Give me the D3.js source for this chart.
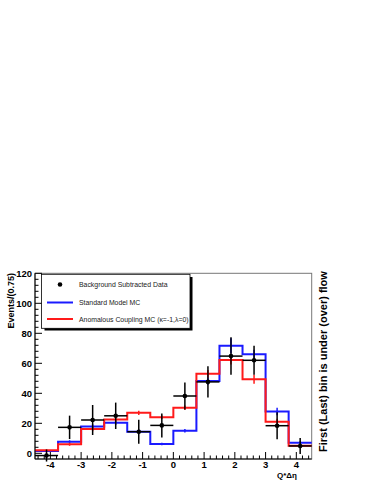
<!DOCTYPE html>
<html>
<head>
<meta charset="utf-8">
<script src="https://cdn.jsdelivr.net/npm/d3@7"></script>
<style>
  body { margin: 0; background: #fff; }
  svg { display: block; font-family: "Liberation Sans", Arial, sans-serif; }
</style>
</head>
<body>
<div id="chart"></div>
<script>
// bin edges of Q*deta, width 0.75
const binEdges = [-4.5, -3.75, -3, -2.25, -1.5, -0.75, 0, 0.75, 1.5, 2.25, 3, 3.75, 4.5];
const dataValues = [-1.5, 17.3, 22.2, 25, 14.4, 18.6, 38.2, 47.6, 64.8, 62, 18.4, 4.9];
const dataErrors = [4, 7.8, 10, 8.8, 8, 8, 9, 10.4, 12.5, 9.7, 9, 5.3];
const smValues = [1.5, 7.7, 17.8, 20.4, 14.4, 6.2, 15, 48.2, 71.7, 66, 27.8, 7];
const smErrors = [0.6, 1, 1.5, 1.5, 1.4, 0.8, 1.2, 2.5, 5, 3, 2.5, 1];
const acValues = [2, 6, 16.2, 22.6, 27, 24, 30.4, 53, 62.2, 49.3, 21.1, 5];
const acErrors = [0.6, 1, 1.5, 1.5, 1.4, 1.2, 1.5, 2.5, 3, 3, 2, 1];
const yTicks = [0, 20, 40, 60, 80, 100, 120];
const xTicks = [-4, -3, -2, -1, 0, 1, 2, 3, 4];

const width = 374, height = 484;
const svg = d3.select("#chart").append("svg")
    .attr("width", width).attr("height", height);

const x = d3.scaleLinear().domain([-4.5, 4.5]).range([35, 311.7]);
const y = d3.scaleLinear().domain([-3.8, 120]).range([459, 273.3]);

// frame
svg.append("rect")
    .attr("x", x(-4.5)).attr("y", y(120))
    .attr("width", x(4.5) - x(-4.5)).attr("height", y(-3.8) - y(120))
    .attr("fill", "none").attr("stroke", "#777").attr("stroke-width", 1);

// step histogram path
function stepPath(vals) {
    let pts = [];
    vals.forEach((v, i) => {
        pts.push([x(binEdges[i]), y(v)]);
        pts.push([x(binEdges[i + 1]), y(v)]);
    });
    return d3.line()(pts);
}

function drawHist(vals, errs, color) {
    const g = svg.append("g");
    g.append("path")
        .attr("d", stepPath(vals))
        .attr("fill", "none")
        .attr("stroke", color)
        .attr("stroke-width", 2);
    g.selectAll("line")
        .data(vals)
        .enter().append("line")
        .attr("x1", (d, i) => x((binEdges[i] + binEdges[i + 1]) / 2))
        .attr("x2", (d, i) => x((binEdges[i] + binEdges[i + 1]) / 2))
        .attr("y1", (d, i) => y(d - errs[i]))
        .attr("y2", (d, i) => y(d + errs[i]))
        .attr("stroke", color)
        .attr("stroke-width", 1.5);
}

drawHist(smValues, smErrors, "#1a1aff");
drawHist(acValues, acErrors, "#ff1a1a");

// data points
const dg = svg.append("g");
dataValues.forEach((v, i) => {
    const cx = x((binEdges[i] + binEdges[i + 1]) / 2);
    dg.append("line")
        .attr("x1", x(binEdges[i])).attr("x2", x(binEdges[i + 1]))
        .attr("y1", y(v)).attr("y2", y(v))
        .attr("stroke", "#000").attr("stroke-width", 1.5);
    dg.append("line")
        .attr("x1", cx).attr("x2", cx)
        .attr("y1", y(v - dataErrors[i])).attr("y2", y(v + dataErrors[i]))
        .attr("stroke", "#000").attr("stroke-width", 1.5);
    dg.append("circle")
        .attr("cx", cx).attr("cy", y(v)).attr("r", 2.3)
        .attr("fill", "#000");
});

// axes (ticks drawn inward, ROOT style)
const yAxis = svg.append("g");
yAxis.append("line")
    .attr("x1", x(-4.5)).attr("x2", x(-4.5))
    .attr("y1", y(-3.8)).attr("y2", y(120))
    .attr("stroke", "#000").attr("stroke-width", 1);
d3.range(0, 121, 4).forEach(t => {
    const major = t % 20 === 0;
    yAxis.append("line")
        .attr("x1", x(-4.5)).attr("x2", x(-4.5) + (major ? 7 : 3.5))
        .attr("y1", y(t)).attr("y2", y(t))
        .attr("stroke", "#000");
});
yAxis.selectAll("text")
    .data(yTicks)
    .enter().append("text")
    .attr("x", x(-4.5) - 3)
    .attr("y", d => y(d) + 3.5)
    .attr("text-anchor", "end")
    .attr("font-size", 9.5)
    .attr("font-weight", "bold")
    .text(d => d);

const xAxis = svg.append("g");
xAxis.append("line")
    .attr("x1", x(-4.5)).attr("x2", x(4.5))
    .attr("y1", y(-3.8)).attr("y2", y(-3.8))
    .attr("stroke", "#000").attr("stroke-width", 1);
d3.range(-44, 45, 2).forEach(k => {
    const t = k / 10;
    const major = k % 10 === 0;
    xAxis.append("line")
        .attr("x1", x(t)).attr("x2", x(t))
        .attr("y1", y(-3.8)).attr("y2", y(-3.8) - (major ? 7 : 3.5))
        .attr("stroke", "#000");
});
xAxis.selectAll("text")
    .data(xTicks)
    .enter().append("text")
    .attr("x", d => x(d))
    .attr("y", 468)
    .attr("text-anchor", "middle")
    .attr("font-size", 9.5)
    .attr("font-weight", "bold")
    .text(d => d);

svg.append("text")
    .attr("x", 297).attr("y", 478)
    .attr("text-anchor", "end")
    .attr("font-size", 8)
    .attr("font-weight", "bold")
    .text("Q*Δη");

svg.append("text")
    .attr("transform", "translate(14,273) rotate(-90)")
    .attr("text-anchor", "end")
    .attr("font-size", 9)
    .attr("font-weight", "bold")
    .text("Events/(0.75)");

svg.append("text")
    .attr("transform", "translate(327,452) rotate(-90)")
    .attr("text-anchor", "start")
    .attr("font-size", 11)
    .attr("font-weight", "bold")
    .text("First (Last) bin is under (over) flow");

// legend box with shadow
const lg = svg.append("g");
lg.append("rect")
    .attr("x", 44.5).attr("y", 277).attr("width", 148).attr("height", 53.5)
    .attr("fill", "#000");
lg.append("rect")
    .attr("x", 41.5).attr("y", 274.3).attr("width", 148.5).attr("height", 54)
    .attr("fill", "#fff").attr("stroke", "#000").attr("stroke-width", 0.8);

const legendItems = [
    { label: "Background Subtracted Data", type: "dot", color: "#000" },
    { label: "Standard Model MC", type: "line", color: "#1a1aff" },
    { label: "Anomalous Coupling MC (κ=-1,λ=0)", type: "line", color: "#ff1a1a" }
];
const rowY = [284.5, 302.5, 319];
legendItems.forEach((d, i) => {
    if (d.type === "dot") {
        lg.append("circle").attr("cx", 60).attr("cy", rowY[i]).attr("r", 2.3).attr("fill", d.color);
    } else {
        lg.append("line")
            .attr("x1", 47).attr("x2", 73)
            .attr("y1", rowY[i]).attr("y2", rowY[i])
            .attr("stroke", d.color).attr("stroke-width", 2);
    }
    lg.append("text")
        .attr("x", 79).attr("y", rowY[i] + 2.6)
        .attr("font-size", 6.9)
        .attr("fill", "#222")
        .text(d.label);
});
</script>
</body>
</html>
